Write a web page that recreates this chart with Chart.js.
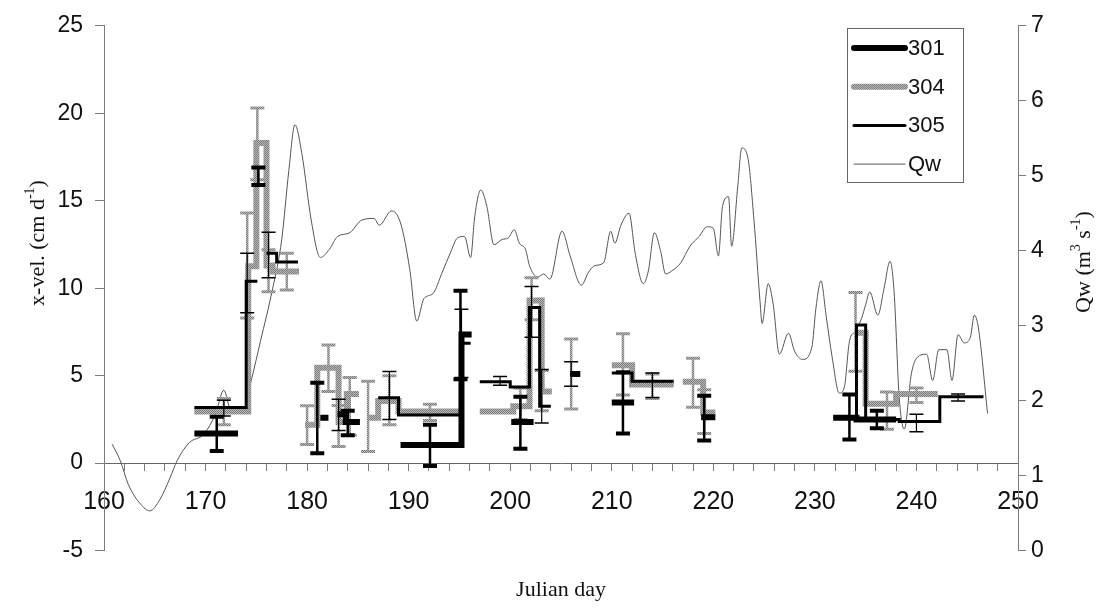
<!DOCTYPE html>
<html><head><meta charset="utf-8">
<script src="https://cdn.jsdelivr.net/npm/chart.js@4.4.0/dist/chart.umd.min.js"></script>
<style>html,body{margin:0;padding:0;background:#fff;overflow:hidden}</style>
</head><body>
<canvas id="c" width="1099" height="609"></canvas>
<script>
// ---------------- DATA ----------------
const xTickLabels = [160,170,180,190,200,210,220,230,240,250];
const yLeftTicks = [-5,0,5,10,15,20,25];
const yRightTicks = [0,1,2,3,4,5,6,7];

// Qw discharge (right axis)
const qwDays = [160.8,161.6,162.4,163.6,164.5,165.5,166.5,167.2,168.4,169.8,171.0,171.8,172.5,173.6,174.5,
175.4,176.6,177.5,178.2,178.8,179.5,180.4,181.3,182.2,183.0,184.2,185.4,186.6,187.1,188.3,189.2,190.1,190.8,191.5,192.4,
193.3,194.1,194.8,195.5,196.1,196.5,197.1,197.7,198.4,199.2,199.8,200.4,200.9,201.5,201.9,202.7,203.3,203.9,205.1,205.9,
207.0,207.7,208.3,209.2,209.9,210.3,210.9,211.7,212.3,213.1,213.6,214.2,214.8,215.3,215.9,216.8,217.7,218.6,219.4,220.0,
220.5,220.9,221.5,221.8,222.4,222.8,223.4,224.0,224.6,224.8,225.4,225.9,226.5,227.4,228.0,228.8,229.7,230.1,230.6,231.1,
231.7,232.4,232.9,233.4,234.0,234.6,235.0,235.4,236.2,236.8,237.4,237.8,238.3,238.8,239.5,240.1,241.0,241.6,242.2,243.0,
243.5,244.1,244.7,245.3,245.7,246.1,247.0];
const qwValues = [1.42,1.20,0.88,0.62,0.53,0.68,0.97,1.20,1.44,1.55,1.83,2.14,1.86,1.83,2.27,
2.79,3.49,4.15,5.07,5.68,5.28,4.41,3.91,4.02,4.19,4.24,4.41,4.43,4.34,4.53,4.37,3.76,3.06,3.36,3.43,
3.71,3.97,4.17,4.19,3.91,4.45,4.81,4.59,4.08,4.15,4.17,4.28,4.10,4.02,3.80,3.65,3.69,3.62,4.26,3.93,
3.54,3.71,3.80,3.84,4.26,4.10,4.34,4.50,3.97,3.56,3.73,4.24,4.00,3.69,3.73,3.84,4.06,4.19,4.32,4.30,
3.93,4.59,4.72,4.06,4.85,5.37,5.24,4.41,3.32,3.03,3.56,3.28,2.62,2.90,2.66,2.55,2.71,3.23,3.60,3.14,
2.58,2.10,2.18,2.79,2.93,3.10,3.28,3.45,3.14,3.49,3.86,3.45,2.05,1.62,2.36,2.58,2.62,2.27,2.68,2.68,
2.27,2.88,2.77,2.84,3.14,2.97,1.83];

// step series: [startDay, endDay, x-vel]
const s301Steps = [[168.9,173.2,1.7],[181.3,182.1,2.6],[183.0,183.8,2.8],[183.8,185.2,2.35],
[189.2,195.2,1.03],[195.2,196.2,7.35],[200.1,202.3,2.35],[205.9,206.9,5.1],[210.0,212.2,3.46],
[218.8,220.2,2.62],[231.8,234.1,2.6],[234.1,238.0,2.5]];
const s304Steps = [[168.9,174.2,2.95],[174.2,175.0,11.25],[175.0,176.0,18.3],[176.0,176.6,11.3],[176.6,179.2,10.95],
[179.8,181.0,2.2],[181.0,183.1,5.45],[183.1,183.9,2.35],[183.9,185.1,3.95],
[186.0,187.0,2.6],[187.0,189.0,3.55],[189.0,195.1,2.95],
[197.0,200.3,2.95],[200.3,201.9,3.25],[201.9,203.1,9.3],[203.1,204.1,4.1],
[210.0,212.0,5.6],[212.0,216.1,4.5],[217.0,219.0,4.65],[219.0,220.2,2.9],
[233.9,235.0,7.45],[235.0,238.0,3.4],[238.0,242.1,3.95]];
const s305Steps = [[168.9,174.0,3.18],[174.0,175.1,10.4],[176.0,177.0,12.0],[177.0,179.1,11.5],
[187.0,189.0,3.74],[189.0,195.1,2.75],[195.1,196.1,6.85],
[197.0,200.0,4.65],[200.0,201.9,4.35],[201.9,202.9,8.9],[202.9,204.0,3.25],
[210.0,212.0,5.15],[212.0,216.1,4.68],
[232.0,234.1,2.6],[234.1,235.0,7.9],[235.0,238.3,2.5],[238.3,242.3,2.38],[242.3,246.6,3.8]];

// error bars: [day, low, high]
const s301Err = [[171.1,0.7,2.65],[175.2,15.9,16.9],[181.0,0.56,4.6],[184.0,1.6,3.0],[192.1,-0.17,2.2],
[195.1,4.8,9.85],[201.0,0.82,3.8],[211.1,1.7,5.2],[219.1,1.3,3.85],[233.4,1.35,3.93],[236.1,2.0,3.0]];
const s304Err = [[171.8,2.2,3.7],[174.1,8.3,14.3],[175.1,16.2,20.3],[176.2,9.8,12.2],[178.0,9.9,12.0],
[180.0,1.07,3.28],[182.1,4.1,6.75],[183.1,0.95,3.3],[184.2,1.6,4.9],[186.0,0.66,4.68],
[188.1,2.2,5.0],[192.1,2.43,3.37],[201.0,2.5,4.3],[202.1,8.2,10.6],[203.1,3.0,5.3],
[206.0,3.1,7.1],[211.1,3.9,7.4],[214.0,3.7,5.1],[218.0,3.2,6.0],[219.1,1.7,4.2],
[234.0,5.25,9.75],[237.1,1.93,4.06],[240.0,3.46,4.3]];
const s305Err = [[171.8,2.7,3.6],[174.1,8.6,12.0],[176.2,10.6,13.2],[183.1,1.87,3.65],[188.1,2.49,5.24],
[195.2,4.9,8.8],[199.0,4.45,4.95],[202.1,7.2,10.1],[203.1,2.3,5.35],[206.0,4.4,5.8],
[214.0,3.75,5.15],[240.0,1.8,2.8],[244.1,3.55,3.95]];

// ---------------- BUILD ----------------
function stepPoints(segs){
  const pts=[]; let prevEnd=null;
  segs.forEach(([a,b,v])=>{
    if(prevEnd!==null && Math.abs(a-prevEnd)>0.05){ pts.push({x:(a+prevEnd)/2,y:null}); }
    pts.push({x:a,y:v},{x:b,y:v});
    prevEnd=b;
  });
  return pts;
}
function errPoints(bars){
  const pts=[];
  bars.forEach(([x,lo,hi])=>{ pts.push({x:x,y:lo},{x:x,y:hi},{x:x+0.001,y:null}); });
  return pts;
}
function makeHatch(){
  const c=document.createElement('canvas'); c.width=4; c.height=4;
  const g=c.getContext('2d');
  g.fillStyle='#b8b8b8'; g.fillRect(0,0,4,4);
  g.fillStyle='#7c7c7c';
  for(let i=0;i<4;i++){ g.fillRect(i,i,1,1); g.fillRect((i+2)%4,i,1,1); }
  return g.createPattern(c,'repeat');
}
const hatch = makeHatch();
const FONT_SANS = "'Liberation Sans', Arial, Helvetica, sans-serif";
const FONT_SERIF = "'Liberation Serif', 'Times New Roman', serif";
const AXIS = '#7a7a7a';

const legendItems = [
  {label:'301', color:'#000', width:6},
  {label:'304', color:hatch, width:6},
  {label:'305', color:'#000', width:3},
  {label:'Qw', color:'#555', width:1}
];

const datasets = [
  {label:'301', data:stepPoints(s301Steps), borderColor:'#000', borderWidth:6, pointRadius:0, borderJoinStyle:'miter', spanGaps:false},
  {label:'301 err', data:errPoints(s301Err), borderColor:'#000', borderWidth:2.5, pointStyle:'line', pointRadius:7, pointBorderWidth:4, pointBorderColor:'#000', spanGaps:false},
  {label:'305', data:stepPoints(s305Steps), borderColor:'#000', borderWidth:3, pointRadius:0, borderJoinStyle:'miter', spanGaps:false},
  {label:'305 err', data:errPoints(s305Err), borderColor:'#000', borderWidth:1.2, pointStyle:'line', pointRadius:7, pointBorderWidth:1.5, pointBorderColor:'#000', spanGaps:false},
  {label:'304', data:stepPoints(s304Steps), borderColor:hatch, borderWidth:6, pointRadius:0, borderJoinStyle:'miter', spanGaps:false},
  {label:'304 err', data:errPoints(s304Err), borderColor:hatch, borderWidth:2.5, pointStyle:'line', pointRadius:7, pointBorderWidth:3, pointBorderColor:hatch, spanGaps:false},
  {label:'Qw', data:qwDays.map((d,i)=>({x:d,y:qwValues[i]})), yAxisID:'y2', borderColor:'#555', borderWidth:1, pointRadius:0, cubicInterpolationMode:'monotone'}
];

function drawRich(ctx, cx, cy, parts, size){
  ctx.save(); ctx.translate(cx,cy); ctx.rotate(-Math.PI/2);
  const base = size+'px '+FONT_SERIF, sup = Math.round(size*0.62)+'px '+FONT_SERIF;
  let total=0;
  parts.forEach(p=>{ ctx.font=p.sup?sup:base; total+=ctx.measureText(p.t).width; });
  let x=-total/2; ctx.textBaseline='middle'; ctx.fillStyle='#111';
  parts.forEach(p=>{ ctx.font=p.sup?sup:base; ctx.fillText(p.t,x,p.sup?-size*0.36:0); x+=ctx.measureText(p.t).width; });
  ctx.restore();
}

const overlay = {
  id:'overlay',
  afterDraw(chart){
    const ctx=chart.ctx;
    drawRich(ctx, 38, 243, [{t:'x-vel. (cm d'},{t:'-1',sup:true},{t:')'}], 22);
    drawRich(ctx, 1084, 262, [{t:'Qw (m'},{t:'3',sup:true},{t:' s'},{t:'-1',sup:true},{t:')'}], 22);
    // legend
    const L=847,T=28,W=116,H=154;
    ctx.save();
    ctx.fillStyle='#fff'; ctx.fillRect(L,T,W,H);
    ctx.strokeStyle='#666'; ctx.lineWidth=1; ctx.strokeRect(L+0.5,T+0.5,W,H);
    ctx.font='22px '+FONT_SANS; ctx.textBaseline='middle'; ctx.fillStyle='#111';
    legendItems.forEach((it,i)=>{
      const y=T+20+i*38.7;
      ctx.beginPath(); ctx.moveTo(854,y); ctx.lineTo(905,y);
      ctx.strokeStyle=it.color; ctx.lineWidth=it.width; ctx.lineCap='round'; ctx.stroke();
      ctx.fillText(it.label,908,y+1);
    });
    ctx.restore();
  }
};

new Chart(document.getElementById('c'), {
  type:'line',
  data:{datasets},
  plugins:[overlay],
  options:{
    responsive:false, animation:false, events:[],
    layout:{padding:{top:20,left:0,right:0,bottom:0}},
    plugins:{
      legend:{display:false}, tooltip:{enabled:false},
      title:{display:true, position:'bottom', fullSize:false, text:'Julian day', color:'#111',
        font:{family:FONT_SERIF, size:22, weight:'normal'}, padding:{top:26,bottom:6}}
    },
    scales:{
      x:{type:'linear', min:160, max:250, position:{y:0},
        border:{color:'#666', width:1},
        grid:{drawOnChartArea:false, tickLength:7, color:AXIS},
        ticks:{stepSize:2, autoSkip:false, maxRotation:0, padding:17, color:'#111',
          font:{family:FONT_SANS, size:25},
          callback:(v)=> xTickLabels.includes(v) ? String(v) : ''}
      },
      y:{type:'linear', position:'left', min:yLeftTicks[0], max:yLeftTicks[yLeftTicks.length-1],
        afterFit:(s)=>{s.width=104;},
        afterBuildTicks:(s)=>{s.ticks=yLeftTicks.map(v=>({value:v}));},
        border:{color:AXIS, width:1},
        grid:{drawOnChartArea:false, tickLength:9, color:AXIS},
        ticks:{padding:12, color:'#111', font:{family:FONT_SANS, size:23}},
        title:{display:false}
      },
      y2:{type:'linear', position:'right', min:yRightTicks[0], max:yRightTicks[yRightTicks.length-1],
        afterFit:(s)=>{s.width=81;},
        afterBuildTicks:(s)=>{s.ticks=yRightTicks.map(v=>({value:v}));},
        border:{color:AXIS, width:1},
        grid:{drawOnChartArea:false, tickLength:8, color:AXIS},
        ticks:{padding:5, color:'#111', font:{family:FONT_SANS, size:23}}
      }
    }
  }
});
</script>
</body></html>
